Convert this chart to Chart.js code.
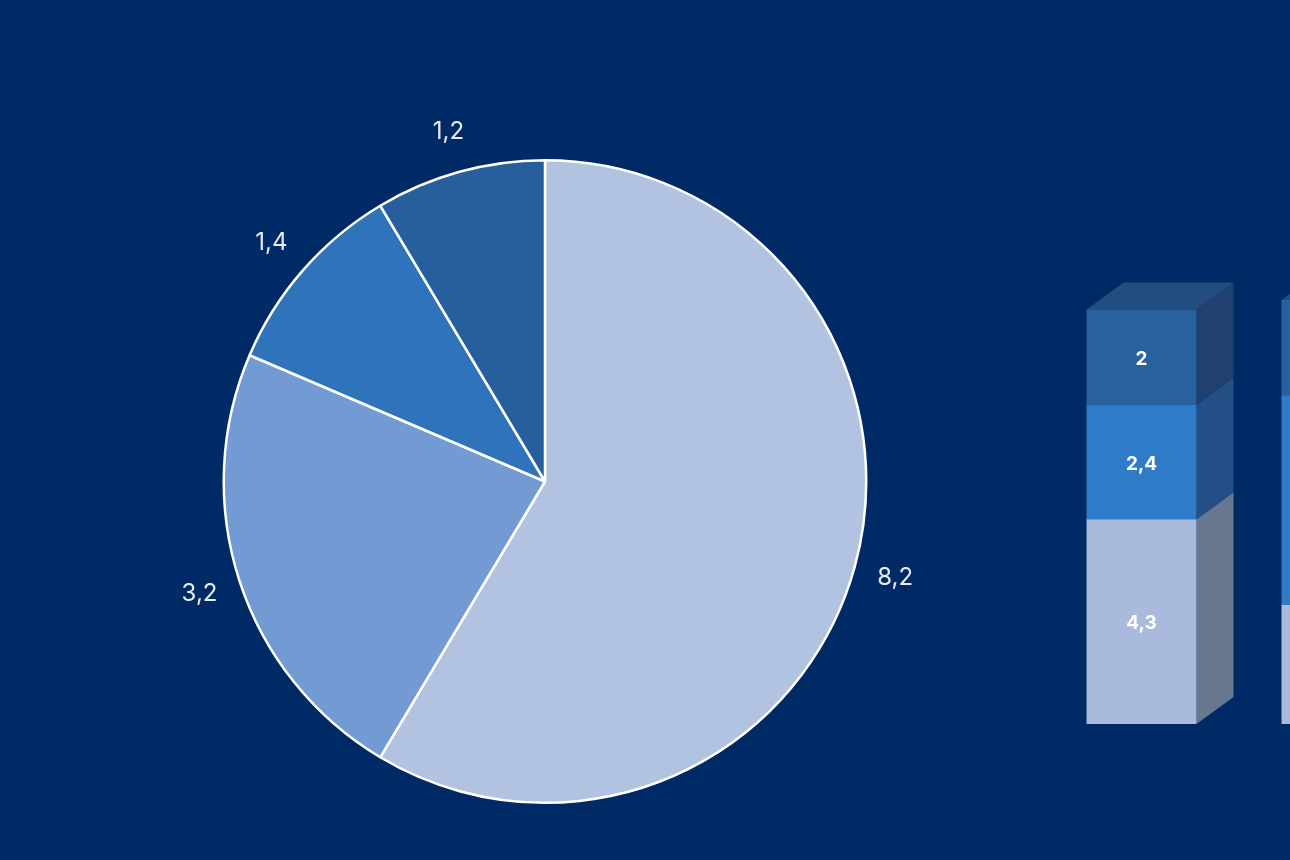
<!DOCTYPE html>
<html>
<head>
<meta charset="utf-8">
<script src="https://cdn.jsdelivr.net/npm/chart.js@4"></script>
<style>
  html, body { margin: 0; padding: 0; }
  body { width: 1290px; height: 860px; overflow: hidden; background: #002a65; position: relative; }
  #pieWrap { position: absolute; left: 0; top: 0; width: 1000px; height: 860px; }
  #barWrap { position: absolute; left: 1044px; top: 200px; width: 390px; height: 524px; }
</style>
</head>
<body>
<div id="pieWrap"><canvas id="pieChart"></canvas></div>
<div id="barWrap"><canvas id="barChart"></canvas></div>
<script>
// pie values (clockwise from 12 o'clock)
const pieValues = [8.2, 3.2, 1.4, 1.2];
const pieColors = ['#b2c3e1', '#739ad2', '#2f74ba', '#265f9c'];

// stacked 3d bars (second one runs off the right edge)
const barCategories = ['A', 'B'];
const barLight = [4.3, 2.5];
const barBlue = [2.4, 4.4];
const barDark = [2, 2.0];

const fmt = v => v.toString().replace('.', ',');

// labels outside the pie
const pieLabels = {
    id: 'pieLabels',
    afterDatasetsDraw(chart) {
        const ctx = chart.ctx;
        ctx.save();
        ctx.font = '24px Inter, "Noto Sans", sans-serif';
        ctx.fillStyle = '#e8edf5';
        ctx.textAlign = 'center';
        ctx.textBaseline = 'middle';
        chart.getDatasetMeta(0).data.forEach((arc, i) => {
            const mid = (arc.startAngle + arc.endAngle) / 2;
            const r = arc.outerRadius + 42;
            ctx.fillText(fmt(pieValues[i]), arc.x + Math.cos(mid) * r, arc.y + Math.sin(mid) * r);
        });
        ctx.restore();
    }
};

new Chart(document.getElementById('pieChart'), {
    type: 'pie',
    data: {
        labels: pieValues.map(fmt),
        datasets: [{
            data: pieValues,
            backgroundColor: pieColors,
            borderColor: '#ffffff',
            borderWidth: 2.5
        }]
    },
    options: {
        responsive: true,
        maintainAspectRatio: false,
        animation: false,
        layout: { padding: { left: 100, right: 10, top: 159, bottom: 56 } },
        plugins: { legend: { display: false }, tooltip: { enabled: false } }
    },
    plugins: [pieLabels]
});

// side + top faces and the values inside
const sideColors = ['#67778f', '#234f86', '#213f6f'];
const depthX = 37, depthY = -27;
const bar3d = {
    id: 'bar3d',
    beforeDatasetsDraw(chart) {
        const ctx = chart.ctx;
        ctx.save();
        chart.data.datasets.forEach((ds, d) => {
            chart.getDatasetMeta(d).data.forEach(bar => {
                const right = bar.x + bar.width / 2;
                ctx.fillStyle = sideColors[d];
                ctx.beginPath();
                ctx.moveTo(right, bar.y);
                ctx.lineTo(right + depthX, bar.y + depthY);
                ctx.lineTo(right + depthX, bar.base + depthY);
                ctx.lineTo(right, bar.base);
                ctx.closePath();
                ctx.fill();
            });
        });
        const last = chart.data.datasets.length - 1;
        chart.getDatasetMeta(last).data.forEach(bar => {
            const left = bar.x - bar.width / 2, right = bar.x + bar.width / 2;
            ctx.fillStyle = '#214d80';
            ctx.beginPath();
            ctx.moveTo(left, bar.y);
            ctx.lineTo(left + depthX, bar.y + depthY);
            ctx.lineTo(right + depthX, bar.y + depthY);
            ctx.lineTo(right, bar.y);
            ctx.closePath();
            ctx.fill();
        });
        ctx.restore();
    },
    afterDatasetsDraw(chart) {
        const ctx = chart.ctx;
        ctx.save();
        ctx.font = 'bold 19px Inter, "Noto Sans", sans-serif';
        ctx.fillStyle = '#ffffff';
        ctx.textAlign = 'center';
        ctx.textBaseline = 'middle';
        chart.data.datasets.forEach((ds, d) => {
            chart.getDatasetMeta(d).data.forEach((bar, i) => {
                ctx.fillText(fmt(ds.data[i]), bar.x, (bar.y + bar.base) / 2 + 2);
            });
        });
        ctx.restore();
    }
};

new Chart(document.getElementById('barChart'), {
    type: 'bar',
    data: {
        labels: barCategories,
        datasets: [
            { data: barLight, backgroundColor: '#a9badc' },
            { data: barBlue, backgroundColor: '#2f7bc8' },
            { data: barDark, backgroundColor: '#28619d' }
        ]
    },
    options: {
        responsive: true,
        maintainAspectRatio: false,
        animation: false,
        clip: false,
        layout: { padding: 0 },
        datasets: { bar: { barPercentage: 1, categoryPercentage: 0.564 } },
        scales: {
            x: { stacked: true, display: false },
            y: { stacked: true, display: false, min: 0, max: 11 }
        },
        plugins: { legend: { display: false }, tooltip: { enabled: false } }
    },
    plugins: [bar3d]
});
</script>
</body>
</html>
